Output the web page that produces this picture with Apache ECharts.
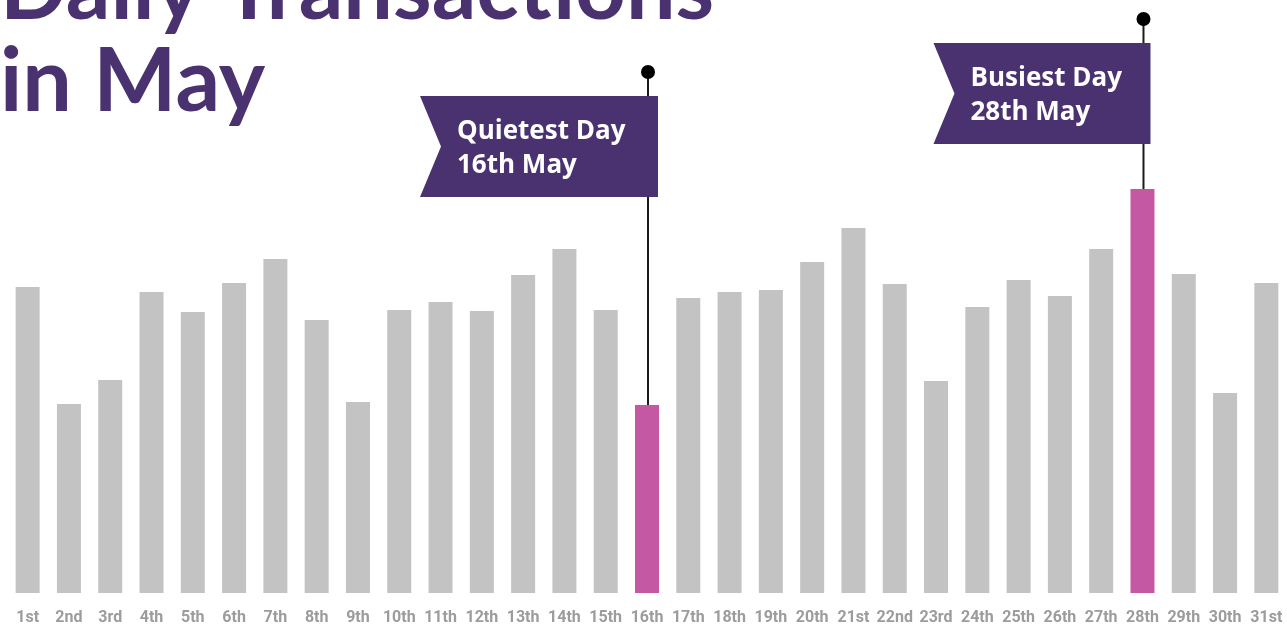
<!DOCTYPE html>
<html>
<head>
    <meta charset="utf-8">
    <title>Daily Transactions in May</title>
    <script src="https://cdn.jsdelivr.net/npm/echarts@6/dist/echarts.min.js"></script>
    <style>
        html, body { margin: 0; padding: 0; background: #fff; }
        #chart1 { width: 1287px; height: 635px; }
    </style>
</head>
<body>
<div id="chart1"></div>
<script type="text/javascript">
    // data
    var days = ['1st','2nd','3rd','4th','5th','6th','7th','8th','9th','10th',
        '11th','12th','13th','14th','15th','16th','17th','18th','19th','20th',
        '21st','22nd','23rd','24th','25th','26th','27th','28th','29th','30th','31st'];
    var transactions = [306, 189, 213, 301, 281, 310, 334, 273, 191, 283,
        291, 282, 318, 344, 283, 188, 295, 301, 303, 331,
        365, 309, 212, 286, 313, 297, 344, 404, 319, 200, 310];
    var flagDays = ['16th', '28th'];
    var flagTops = [521, 574];
    var flagTexts = ['Quietest Day\n16th May', 'Busiest Day\n28th May'];

    var purple = '#4a3270';
    var pink = '#c558a3';
    var grey = '#c3c3c3';
    var bannerW = [238, 217];

    var chart = echarts.init(document.getElementById('chart1'));

    chart.setOption({
        animation: false,
        title: {
            text: 'Daily Transactions\nin May',
            left: -5,
            top: -60,
            textStyle: {
                color: purple,
                fontFamily: 'Lato',
                fontWeight: 'bold',
                fontSize: 88,
                lineHeight: 92
            }
        },
        grid: { left: 7, right: 0, top: 0, bottom: 42 },
        xAxis: {
            type: 'category',
            data: days,
            axisLine: { show: false },
            axisTick: { show: false },
            axisLabel: {
                interval: 0,
                margin: 17,
                color: '#9c9c9c',
                fontFamily: 'Roboto',
                fontWeight: 'bold',
                fontSize: 16
            }
        },
        yAxis: {
            type: 'value',
            min: 0,
            max: 593,
            show: false,
            splitLine: { show: false }
        },
        series: [{
            type: 'bar',
            barWidth: 24,
            data: transactions.map(function (v, i) {
                return {
                    value: v,
                    itemStyle: { color: flagDays.indexOf(days[i]) >= 0 ? pink : grey }
                };
            })
        }]
    });

    // flags on poles, placed through the axes
    var graphics = [];
    flagDays.forEach(function (d, k) {
        var idx = days.indexOf(d);
        var bar = chart.convertToPixel({ gridIndex: 0 }, [idx, transactions[idx]]);
        var top = chart.convertToPixel({ gridIndex: 0 }, [idx, flagTops[k]]);
        var px = bar[0] + 1;
        var by = top[1] + 24, bh = 101;
        var right = px + (k === 0 ? 10 : 7);
        var left = right - bannerW[k];
        graphics.push({
            type: 'line', z: 10,
            shape: { x1: px, y1: top[1], x2: px, y2: bar[1] },
            style: { stroke: '#1a1a1a', lineWidth: 2 }
        });
        graphics.push({
            type: 'circle', z: 11,
            shape: { cx: px, cy: top[1], r: 7 },
            style: { fill: '#000' }
        });
        graphics.push({
            type: 'polygon', z: 12,
            shape: { points: [[left, by], [right, by], [right, by + bh], [left, by + bh], [left + 21, by + bh / 2]] },
            style: { fill: purple }
        });
        graphics.push({
            type: 'text', z: 13,
            x: left + 37, y: by + bh / 2 + 2,
            style: {
                text: flagTexts[k],
                fill: '#fff',
                font: 'bold 26px "Open Sans"',
                lineHeight: 34,
                verticalAlign: 'middle',
                align: 'left'
            }
        });
    });
    chart.setOption({ graphic: graphics });
</script>
</body>
</html>
